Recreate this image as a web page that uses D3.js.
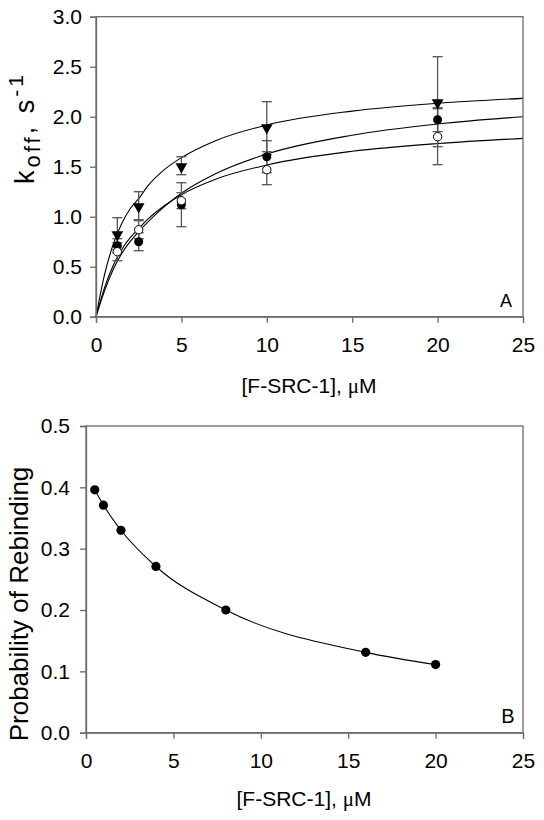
<!DOCTYPE html>
<html>
<head>
<meta charset="utf-8">
<script src="https://cdn.jsdelivr.net/npm/d3@7"></script>
<style>
  html, body { margin: 0; padding: 0; background: #fff; }
  svg { display: block; }
  text { font-family: "Liberation Sans", Arial, sans-serif; fill: #000; }
</style>
</head>
<body>
<svg id="chart" width="544" height="820"></svg>
<script>
// ---------- Panel A data ----------
const concA = [1.25, 2.5, 5, 10, 20];
const triVals = [0.83, 1.11, 1.51, 1.90, 2.15];
const triErr = [0.16, 0.14, 0.09, 0.25, 0.45];
const filledVals = [0.71, 0.75, 1.12, 1.60, 1.97];
const filledErr = [0.07, 0.09, 0.22, 0.16, 0.12];
const openVals = [0.65, 0.87, 1.16, 1.47, 1.80];
const openErr = [0.09, 0.09, 0.08, 0.15, 0.28];

// fitted curves
const fitX = [0, 0.5, 1, 1.5, 2, 2.5, 3, 4, 5, 7, 10, 15, 20, 25];
const fitTri = [0, 0.42, 0.72, 0.93, 1.08, 1.18, 1.30, 1.47, 1.59, 1.76, 1.917, 2.056, 2.134, 2.183];
const fitFilled = [0, 0.26, 0.47, 0.63, 0.75, 0.85, 0.94, 1.10, 1.235, 1.43, 1.627, 1.815, 1.927, 2.0];
const fitOpen = [0, 0.29, 0.51, 0.67, 0.79, 0.88, 0.97, 1.11, 1.22, 1.375, 1.517, 1.654, 1.732, 1.783];

const xTicks = [0, 5, 10, 15, 20, 25];
const yTicksA = [0, 0.5, 1.0, 1.5, 2.0, 2.5, 3.0];

// ---------- Panel B data ----------
const concB = [0.5, 1, 2, 4, 8, 16, 20];
const probB = [0.396, 0.371, 0.330, 0.271, 0.200, 0.131, 0.111];
const yTicksB = [0, 0.1, 0.2, 0.3, 0.4, 0.5];

const svg = d3.select("#chart");
const axisColor = "#6a6a6a";
const fontSize = 21;
const yTitleSize = 26;

function frame(g, x, y, xt, yt, yfmt, yPad) {
  const [x0, x1] = x.range();
  const [y0, y1] = y.range();
  g.append("rect").attr("x", x0).attr("y", y1).attr("width", x1 - x0).attr("height", y0 - y1)
    .attr("fill", "none").attr("stroke", axisColor).attr("stroke-width", 1.3);
  const xa = g.append("g").attr("transform", `translate(0,${y0})`)
    .call(d3.axisBottom(x).tickValues(xt).tickSize(6).tickPadding(14).tickFormat(d3.format("d")));
  const ya = g.append("g").attr("transform", `translate(${x0},0)`)
    .call(d3.axisLeft(y).tickValues(yt).tickSize(6).tickPadding(yPad).tickFormat(yfmt));
  [xa, ya].forEach(a => {
    a.select(".domain").attr("stroke", axisColor).attr("stroke-width", 1.3);
    a.selectAll(".tick line").attr("stroke", axisColor).attr("stroke-width", 1.3);
    a.selectAll(".tick text").attr("font-size", fontSize).attr("fill", "#000")
      .attr("font-family", "'Liberation Sans', Arial, sans-serif");
  });
}

function xTitle(g, cx, y) {
  const t = g.append("text").attr("x", cx).attr("y", y).attr("text-anchor", "middle")
    .attr("font-size", fontSize);
  t.append("tspan").text("[F-SRC-1], ");
  t.append("tspan").attr("font-family", "'Liberation Serif', 'DejaVu Serif', serif").text("μ");
  t.append("tspan").text("M");
}

// ================= Panel A =================
const xA = d3.scaleLinear().domain([0, 25]).range([96, 523]);
const yA = d3.scaleLinear().domain([0, 3]).range([316.7, 16.7]);
const gA = svg.append("g");

const lineA = d3.line().x(d => xA(d[0])).y(d => yA(d[1])).curve(d3.curveMonotoneX);
[fitTri, fitFilled, fitOpen].forEach(arr => {
  gA.append("path").datum(fitX.map((xv, i) => [xv, arr[i]]))
    .attr("d", lineA).attr("fill", "none").attr("stroke", "#000").attr("stroke-width", 1.1);
});

function errBars(g, xs, vals, errs, x, y) {
  xs.forEach((xv, i) => {
    const cx = x(xv);
    g.append("line").attr("x1", cx).attr("x2", cx)
      .attr("y1", y(vals[i] - errs[i])).attr("y2", y(vals[i] + errs[i]))
      .attr("stroke", "#555").attr("stroke-width", 1.3);
    [vals[i] - errs[i], vals[i] + errs[i]].forEach(v => {
      g.append("line").attr("x1", cx - 5).attr("x2", cx + 5)
        .attr("y1", y(v)).attr("y2", y(v))
        .attr("stroke", "#555").attr("stroke-width", 1.3);
    });
  });
}
errBars(gA, concA, triVals, triErr, xA, yA);
errBars(gA, concA, filledVals, filledErr, xA, yA);
errBars(gA, concA, openVals, openErr, xA, yA);

const triDown = d3.symbol().type(d3.symbolTriangle).size(60);
concA.forEach((xv, i) => {
  gA.append("path").attr("d", triDown)
    .attr("transform", `translate(${xA(xv)},${yA(triVals[i]) + 1}) rotate(180)`)
    .attr("fill", "#000");
});
concA.forEach((xv, i) => {
  gA.append("circle").attr("cx", xA(xv)).attr("cy", yA(filledVals[i])).attr("r", 4.5)
    .attr("fill", "#000");
});
concA.forEach((xv, i) => {
  gA.append("circle").attr("cx", xA(xv)).attr("cy", yA(openVals[i])).attr("r", 4.2)
    .attr("fill", "#fff").attr("stroke", "#000").attr("stroke-width", 1);
});

frame(gA, xA, yA, xTicks, yTicksA, d3.format(".1f"), 8);

xTitle(gA, 309, 393);
const ytA = gA.append("text").attr("transform", "translate(34,128) rotate(-90)")
  .attr("text-anchor", "middle").attr("font-size", 27).attr("letter-spacing", 3);
ytA.append("tspan").text("k");
ytA.append("tspan").attr("font-size", 22).attr("dy", 6).text("off");
ytA.append("tspan").attr("dy", -6).text(", s");
ytA.append("tspan").attr("font-size", 21).attr("dy", -11).text("-1");
gA.append("text").attr("x", 506).attr("y", 307).attr("text-anchor", "middle")
  .attr("font-size", 18).text("A");

// ================= Panel B =================
const xB = d3.scaleLinear().domain([0, 25]).range([86, 523]);
const yB = d3.scaleLinear().domain([0, 0.5]).range([732.7, 426]);
const gB = svg.append("g");

const lineB = d3.line().x(d => xB(d[0])).y(d => yB(d[1])).curve(d3.curveMonotoneX);
gB.append("path").datum(concB.map((xv, i) => [xv, probB[i]]))
  .attr("d", lineB).attr("fill", "none").attr("stroke", "#000").attr("stroke-width", 1.1);
concB.forEach((xv, i) => {
  gB.append("circle").attr("cx", xB(xv)).attr("cy", yB(probB[i])).attr("r", 4.6).attr("fill", "#000");
});

frame(gB, xB, yB, xTicks, yTicksB, d3.format(".1f"), 10);

xTitle(gB, 304, 806);
gB.append("text").attr("transform", "translate(28,604) rotate(-90)")
  .attr("text-anchor", "middle").attr("font-size", yTitleSize)
  .text("Probability of Rebinding");
gB.append("text").attr("x", 508).attr("y", 723).attr("text-anchor", "middle")
  .attr("font-size", 20).text("B");
</script>
</body>
</html>
